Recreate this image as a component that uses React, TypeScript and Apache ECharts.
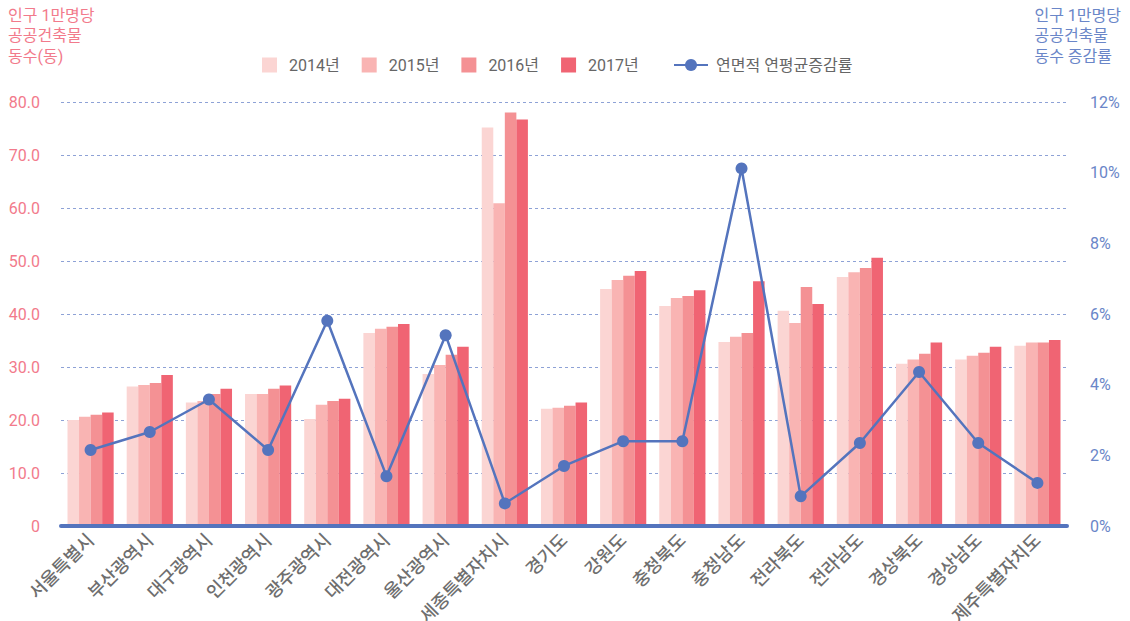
import React, { useEffect, useRef } from "react";
import * as echarts from "echarts";

const categories = [
  "서울특별시", "부산광역시", "대구광역시", "인천광역시", "광주광역시", "대전광역시",
  "울산광역시", "세종특별자치시", "경기도", "강원도", "충청북도", "충청남도",
  "전라북도", "전라남도", "경상북도", "경상남도", "제주특별자치도",
];

const v2014 = [20.0, 26.3, 23.3, 24.9, 20.2, 36.4, 28.7, 75.2, 22.1, 44.7, 41.5, 34.7, 40.6, 47.0, 30.6, 31.4, 34.0];
const v2015 = [20.6, 26.6, 23.6, 24.9, 22.9, 37.2, 30.4, 60.9, 22.3, 46.4, 43.0, 35.7, 38.3, 47.9, 31.4, 32.1, 34.6];
const v2016 = [21.0, 27.0, 24.9, 25.9, 23.6, 37.6, 32.3, 78.0, 22.7, 47.2, 43.4, 36.4, 45.1, 48.7, 32.5, 32.7, 34.6];
const v2017 = [21.4, 28.5, 25.9, 26.5, 24.0, 38.1, 33.8, 76.7, 23.3, 48.1, 44.5, 46.2, 41.9, 50.6, 34.6, 33.8, 35.1];
const growthRate = [2.15, 2.66, 3.58, 2.15, 5.81, 1.41, 5.40, 0.64, 1.70, 2.40, 2.40, 10.12, 0.84, 2.35, 4.36, 2.35, 1.22];

const seriesNames = ["2014년", "2015년", "2016년", "2017년"];
const lineName = "연면적 연평균증감률";
const barColors = ["#fbd5d3", "#f9b4b3", "#f49194", "#f06473"];
const lineColor = "#5474bd";
const pink = "#f27a8b";
const blue = "#6a86c8";
const font = "Roboto, 'Noto Sans CJK KR', sans-serif";

export default function App() {
  const ref = useRef<HTMLDivElement>(null);
  useEffect(() => {
    if (!ref.current) return;
    const chart = echarts.init(ref.current, null, { renderer: "svg" });
    const barData = [v2014, v2015, v2016, v2017];
    chart.setOption({
      animation: false,
      textStyle: { fontFamily: font },
      legend: [
        {
          top: 52,
          left: 257,
          itemWidth: 15,
          itemHeight: 15,
          itemGap: 22,
          icon: "rect",
          textStyle: { color: "#666", fontSize: 16, fontFamily: font, padding: [0, 0, 0, 7] },
          data: seriesNames,
        },
        {
          top: 52,
          left: 668,
          itemWidth: 34,
          itemHeight: 15,
          textStyle: { color: "#666", fontSize: 16, fontFamily: font, padding: [0, 0, 0, 3] },
          data: [lineName],
        },
      ],
      graphic: [
        {
          type: "text",
          left: 8,
          top: 5,
          style: {
            text: "인구 1만명당\n공공건축물\n동수(동)",
            fill: pink,
            fontSize: 16,
            lineHeight: 20.5,
            fontFamily: font,
          },
        },
        {
          type: "text",
          right: 9,
          top: 5,
          style: {
            text: "인구 1만명당\n공공건축물\n동수 증감률",
            fill: blue,
            fontSize: 16,
            lineHeight: 20.5,
            align: "right",
            fontFamily: font,
          },
        },
      ],
      grid: { left: 61, right: 63, top: 102, bottom: 95, outerBoundsMode: "none", containLabel: false },
      xAxis: {
        type: "category",
        data: categories,
        z: 10,
        axisLine: { lineStyle: { color: lineColor, width: 4 } },
        axisTick: { show: false },
        axisLabel: {
          rotate: 45,
          color: "#6e6e6e",
          fontSize: 18,
          fontWeight: 500,
          margin: 11,
          interval: 0,
          fontFamily: font,
        },
      },
      yAxis: [
        {
          type: "value",
          min: 0,
          max: 80,
          interval: 10,
          axisLine: { show: false },
          axisTick: { show: false },
          axisLabel: {
            color: pink,
            fontSize: 16,
            margin: 21,
            fontFamily: font,
            formatter: (v: number) => (v === 0 ? "0" : v.toFixed(1)),
          },
          splitLine: { lineStyle: { color: "#8ea2d6", type: [3, 3], width: 1 } },
        },
        {
          type: "value",
          min: 0,
          max: 12,
          interval: 2,
          axisLine: { show: false },
          axisTick: { show: false },
          axisLabel: {
            color: blue,
            fontSize: 16,
            margin: 23,
            fontFamily: font,
            formatter: "{value}%",
          },
          splitLine: { show: false },
        },
      ],
      series: [
        ...seriesNames.map((n, i) => ({
          name: n,
          type: "bar",
          data: barData[i],
          itemStyle: { color: barColors[i] },
          barGap: "0%",
          barCategoryGap: "22%",
          z: 2,
        })),
        {
          name: lineName,
          type: "line",
          yAxisIndex: 1,
          data: growthRate,
          symbol: "circle",
          symbolSize: 12,
          lineStyle: { color: lineColor, width: 2.5 },
          itemStyle: { color: lineColor },
          z: 5,
        },
      ],
    });
    return () => chart.dispose();
  }, []);
  return <div ref={ref} style={{ width: 1130, height: 621, position: "absolute", left: 0, top: 0 }} />;
}
